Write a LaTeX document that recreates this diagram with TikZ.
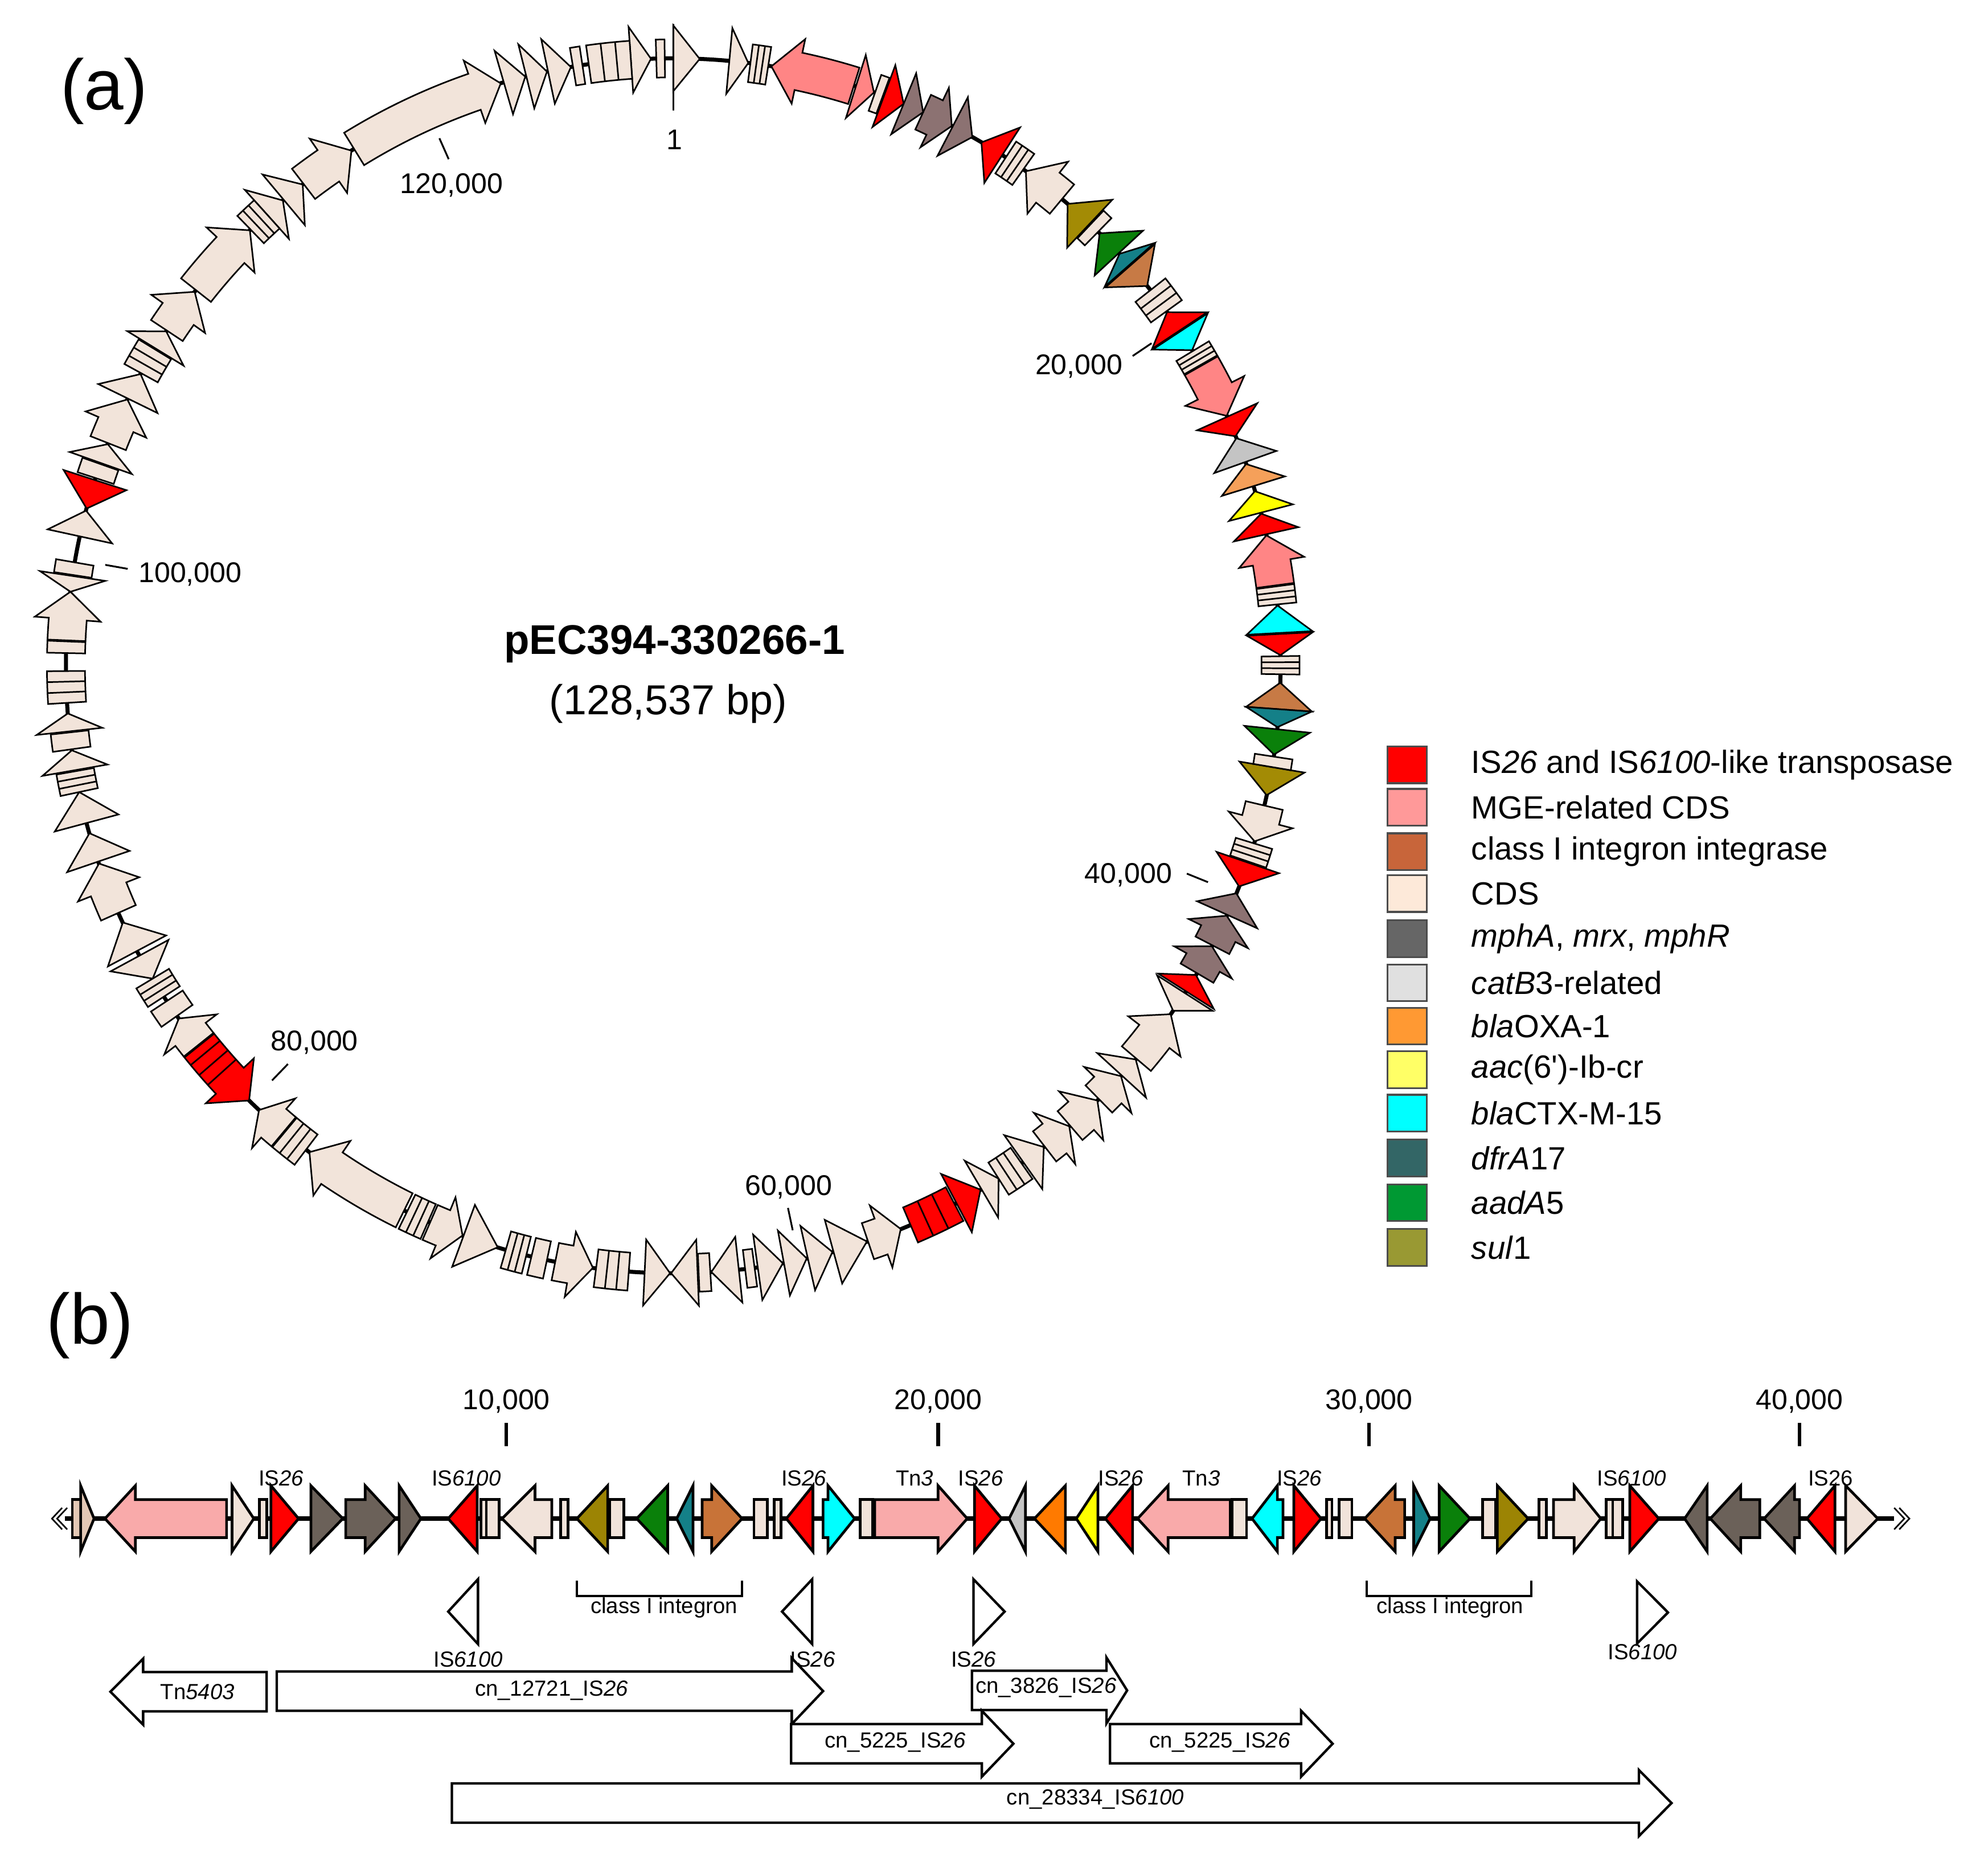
\documentclass[tikz,border=0pt]{standalone}
\usepackage{fontspec}
\setmainfont{Liberation Sans}
\usepackage{tikz}
% ring geometry (units of 0.1mm)
\newcommand{\ringr}{479}
\newcommand{\ringout}{494}
\newcommand{\ringin}{464}
\newcommand{\headout}{505}
\newcommand{\headin}{453}
% linear map
\newcommand{\lineY}{1197.5}
% colours of the ring
\definecolor{cds}{HTML}{F2E4DA}
\definecolor{mge}{HTML}{FF8585}
\definecolor{mph}{HTML}{8C7272}
\definecolor{intI}{HTML}{C77A45}
\definecolor{sul}{HTML}{A38B05}
\definecolor{aad}{HTML}{0A800A}
\definecolor{dfr}{HTML}{148088}
\definecolor{ctx}{HTML}{00FFFF}
\definecolor{oxa}{HTML}{F5A05A}
\definecolor{aac}{HTML}{FFFF00}
\definecolor{cat}{HTML}{C4C4C4}
\definecolor{isred}{HTML}{FF0000}
% colours of the linear map
\definecolor{cdsb}{HTML}{F1E3DA}
\definecolor{cdsdark}{HTML}{E3C8B5}
\definecolor{mgeb}{HTML}{F9AAAA}
\definecolor{mphb}{HTML}{6B6159}
\definecolor{oxab}{HTML}{FF7A00}
\definecolor{sulb}{HTML}{9C8404}
\definecolor{intIb}{HTML}{C87338}
% legend colours
\definecolor{lgpink}{HTML}{FF9999}
\definecolor{lgbrown}{HTML}{C8653A}
\definecolor{lgcds}{HTML}{FDE9D9}
\definecolor{lgmph}{HTML}{666666}
\definecolor{lggrey}{HTML}{E0E0E0}
\definecolor{lgorange}{HTML}{FF9933}
\definecolor{lgyellow}{HTML}{FFFF66}
\definecolor{lgteal}{HTML}{336666}
\definecolor{lggreen}{HTML}{009933}
\definecolor{lgolive}{HTML}{999933}
\tikzstyle{gene}=[draw=black, line width=0.35pt, line join=miter]
\tikzstyle{lgene}=[draw=black, line width=0.6pt]
\tikzstyle{annot}=[draw=black, fill=white, line width=0.55pt]
\tikzstyle{backbone}=[line width=0.9pt]
\tikzstyle{tickmark}=[line width=0.4pt]
\tikzstyle{ticklabel}=[inner sep=0, font=\fontsize{6.4}{7.5}\selectfont]
\tikzstyle{smalllabel}=[inner sep=0, font=\fontsize{4.9}{5.8}\selectfont]
\tikzstyle{legtext}=[inner sep=0, anchor=west, font=\fontsize{7.2}{8.5}\selectfont]
\tikzstyle{panellabel}=[inner sep=0, font=\fontsize{16}{19}\selectfont]

\begin{document}
\begin{tikzpicture}[x=0.1mm, y=-0.1mm]
\useasboundingbox (0,0) rectangle (1568,1471);

% ---------- (a) circular map ----------
\node[panellabel] (lbla) at (82,72) {(a)};
\begin{scope}[shift={(531,525)}, y=0.1mm]
  \draw[backbone] (0,0) circle[radius=\ringr];
  % genes with a body
  \foreach \angA/\angB/\dir/\col in {322.5/328/1/cds, 328.3/343.5/1/cds, 9.3/17.3/-1/mge,
      24.3/27.3/1/mph, 35.5/39.8/-1/cds, 60.4/65.7/1/mge, 77.6/82.4/-1/mge,
      103.3/106.8/1/cds, 114.3/117.4/-1/mph, 117.5/120.4/-1/mph, 125/130.3/-1/cds,
      132.5/135.5/-1/cds, 135.7/139.2/-1/cds, 139.3/142.3/-1/cds, 158/161.3/-1/cds,
      187.6/191.2/-1/cds, 200.3/203.6/-1/cds, 206.3/216.8/1/cds, 219.9/223/1/cds,
      224.3/231.3/-1/isred, 231.4/234.5/1/cds, 246/251/1/cds, 272.4/277/1/cds,
      291.5/296/1/cds, 303.5/308/1/cds, 308.2/315.8/1/cds} {
    \pgfmathsetmacro{\hd}{min(2.6,0.6*(\angB-\angA))}
    \pgfmathsetmacro{\ft}{90-(\dir>0?\angA:\angB)}
    \pgfmathsetmacro{\fp}{90-(\dir>0?\angB:\angA)}
    \pgfmathsetmacro{\fh}{\fp+\dir*\hd}
    \draw[gene, fill=\col] (\ft:\ringout) arc[start angle=\ft, end angle=\fh, radius=\ringout]
      -- (\fh:\headout) -- (\fp:\ringr) -- (\fh:\headin) -- (\fh:\ringin)
      arc[start angle=\fh, end angle=\ft, radius=\ringin] -- cycle;
  }
  % stripes on the red arrow
  \foreach \s in {228,229.2,230.4}
    \draw[gene] ({90-\s}:\ringout) -- ({90-\s}:\ringin);
  % triangles
  \foreach \angA/\angB/\dir/\col in {343.8/345.9/1/cds, 346/348/1/cds, 348.1/350.3/1/cds,
      356/357.9/1/cds, 0/2.5/1/cds, 5.3/7.1/1/cds, 17.5/19.3/1/mge, 20.3/22.3/1/isred,
      22.3/24.3/1/mph, 27.4/29.5/1/mph, 30.5/32.8/-1/isred, 40.5/43.3/-1/sul,
      44.6/47.2/-1/aad, 47.3/48.7/-1/dfr, 48.8/51.3/1/intI, 54.4/56.5/-1/isred,
      56.6/58.7/1/ctx, 65.8/67.8/1/isred, 68/70.4/-1/cat, 70.6/72.8/-1/oxa,
      73.3/75.4/-1/aac, 75.5/77.5/-1/isred, 84.3/86.9/-1/ctx, 87/89/1/isred,
      91.6/94.1/-1/intI, 94.1/95.8/1/dfr, 96/98.4/1/aad, 99.6/102.3/1/sul,
      108.9/111.3/1/isred, 112/114.2/-1/mph, 120.6/122.4/-1/isred, 122.6/124.6/1/cds,
      130.4/132.4/-1/cds, 142.4/144.8/-1/cds, 147.6/149.5/-1/cds, 149.6/152.2/-1/isred,
      161.4/164.7/-1/cds, 164.8/167.2/-1/cds, 167.3/169.5/-1/cds, 169.6/172/-1/cds,
      173.8/176.4/1/cds, 177.7/180.2/1/cds, 180.3/182.7/-1/cds, 196.8/200.2/-1/cds,
      239/241.5/-1/cds, 242/245/1/cds, 251.2/254/1/cds, 255/258/1/cds,
      260.1/262/1/cds, 263.8/265.5/1/cds, 277/278.5/-1/cds, 282.3/284.8/1/cds,
      285/287.8/-1/isred, 289.5/291.4/1/cds, 296.1/298.7/1/cds, 301.5/303.4/1/cds,
      318/320/1/cds, 320.1/322.4/1/cds} {
    \pgfmathsetmacro{\ft}{90-(\dir>0?\angA:\angB)}
    \pgfmathsetmacro{\fp}{90-(\dir>0?\angB:\angA)}
    \draw[gene, fill=\col] (\ft:\headout) -- (\fp:\ringr) -- (\ft:\headin) -- cycle;
  }
  % plain boxes
  \foreach \angA/\angB/\col in {350.5/351.4/cds, 358.4/359.2/cds, 19.4/20.2/cds,
      43.4/44.4/cds, 98.6/99.6/cds, 172.3/173.2/cds, 176.5/177.6/cds, 192/193.5/cds,
      234.8/236.5/cds, 262.1/263.7/cds, 271.2/272.3/cds, 278.6/279.8/cds, 288/289.4/cds} {
    \pgfmathsetmacro{\fa}{90-\angA}
    \pgfmathsetmacro{\fb}{90-\angB}
    \draw[gene, fill=\col] (\fa:\ringout) arc[start angle=\fa, end angle=\fb, radius=\ringout]
      -- (\fb:\ringin) arc[start angle=\fb, end angle=\fa, radius=\ringin] -- cycle;
  }
  % striped boxes
  \foreach \angA/\angB/\col in {352/356/cds, 7.3/9/cds, 33.2/35.2/cds, 51.8/54.3/cds,
      58.8/60.3/cds, 82.5/84.2/cds, 89.1/90.8/cds, 107/108.8/cds, 145/147.6/cds,
      152.4/157/isred, 184.2/187.3/cds, 194/196/cds, 203.8/206/cds, 217.2/219.8/cds,
      237/239/cds, 258/260/cds, 266.5/269.5/cds, 298.8/301.4/cds, 315.9/318/cds} {
    \pgfmathsetmacro{\fa}{90-\angA}
    \pgfmathsetmacro{\fb}{90-\angB}
    \pgfmathsetmacro{\fs}{\fa+(\fb-\fa)/3}
    \pgfmathsetmacro{\fu}{\fa+2*(\fb-\fa)/3}
    \draw[gene, fill=\col] (\fa:\ringout) arc[start angle=\fa, end angle=\fb, radius=\ringout]
      -- (\fb:\ringin) arc[start angle=\fb, end angle=\fa, radius=\ringin] -- cycle;
    \draw[gene] (\fs:\ringout) -- (\fs:\ringin) (\fu:\ringout) -- (\fu:\ringin);
  }
  % scale
  \draw[tickmark] (90:438) -- (90:506);
  \foreach \p in {20,40,...,120} {
    \pgfmathsetmacro{\fk}{90-\p/128.537*360}
    \draw[tickmark] (\fk:437) -- (\fk:455);
  }
\end{scope}
\node[ticklabel] (one) at (532,110) {1};
\node[ticklabel] (k20) at (851,289) {20,000};
\node[ticklabel] (k40) at (890,690) {40,000};
\node[ticklabel] (k60) at (622,936) {60,000};
\node[ticklabel] (k80) at (248,822) {80,000};
\node[ticklabel] (k100) at (150,453) {100,000};
\node[ticklabel] (k120) at (356,146) {120,000};
\node[inner sep=0, font=\bfseries\fontsize{9.3}{11}\selectfont] (pname) at (532,508) {pEC394-330266-1};
\node[inner sep=0, font=\fontsize{9.4}{11}\selectfont] (psize) at (527,555) {(128,537 bp)};

% ---------- legend ----------
\foreach \row/\col/\txt [count=\i] in {603.1/isred/{IS\textit{26} and IS\textit{6100}-like transposase},
    636.6/lgpink/{MGE-related CDS}, 671.6/lgbrown/{class I integron integrase},
    704.6/lgcds/{CDS}, 740.2/lgmph/{\textit{mphA}, \textit{mrx}, \textit{mphR}},
    775/lggrey/{\textit{catB}3-related}, 809.2/lgorange/{\textit{bla}OXA-1},
    843.6/lgyellow/{\textit{aac}(6\textquotesingle)-Ib-cr}, 877.8/ctx/{\textit{bla}CTX-M-15},
    913.2/lgteal/{\textit{dfrA}17}, 948.4/lggreen/{\textit{aadA}5},
    983.7/lgolive/{\textit{sul}1}} {
  \draw[draw=black!70, line width=0.4pt, fill=\col] (1094.3,\row-14.5) rectangle (1125.5,\row+14.5);
  \node[legtext] (leg\i) at (1159.9,\row) {\txt};
}

% ---------- (b) linear map ----------
\node[panellabel] (lblb) at (71,1045) {(b)};
\foreach \x/\k in {399.4/10,740/20,1079.8/30,1419.3/40} {
  \draw[line width=0.8pt] (\x,1122) -- (\x,1140.6);
  \node[ticklabel] (lin\k) at (\x,1105) {\k,000};
}
\draw[line width=1pt] (51,\lineY) -- (1494,\lineY);
\draw[line width=0.35pt] (49,1189) -- (41,\lineY) -- (49,1206) (53,1189) -- (45,\lineY) -- (53,1206);
\draw[line width=0.35pt] (1494,1189) -- (1502,\lineY) -- (1494,1206) (1498,1189) -- (1506,\lineY) -- (1498,1206);
% boxes
\foreach \xa/\xb/\col in {57/64.1/cdsdark, 204.5/210.3/cdsb, 379.3/393.6/cdsb, 442.3/448/cdsb,
    480.7/492.2/cdsb, 594.7/605.3/cdsb, 610.5/616/cdsb, 678.4/688.4/cdsb, 971.8/983.2/cdsb,
    1046.3/1050.6/cdsb, 1056.3/1066.3/cdsb, 1169.5/1179.5/cdsb, 1213.9/1219.6/cdsb,
    1266.9/1279.8/cdsb}
  \draw[lgene, fill=\col] (\xa,\lineY-15) rectangle (\xb,\lineY+15);
\draw[lgene] (383.6,\lineY-15) -- (383.6,\lineY+15) (1272,\lineY-15) -- (1272,\lineY+15);
% triangles
\foreach \xa/\xb/\dir/\col in {63.6/74.2/1/cdsdark, 183/200.2/1/cdsb, 213.7/235.5/1/isred,
    245.2/270.4/1/mphb, 314.8/332/1/mphb, 353.5/376.4/-1/isred, 455/479.3/-1/sulb,
    502.2/526.6/-1/aad, 533.7/546.6/-1/dfr, 620.2/641.2/-1/isred, 768.6/790.1/1/isred,
    795.9/808.8/-1/cat, 815.9/840.3/-1/oxab, 848.9/866/-1/aac, 871.8/893.3/-1/isred,
    1020.5/1042/1/isred, 1115/1128/1/dfr, 1135.1/1159.5/1/aad, 1181/1205.3/1/sulb,
    1285.5/1308.4/1/isred, 1328.7/1346.5/-1/mphb, 1425.2/1447.3/-1/isred,
    1455.7/1481.1/1/cdsb} {
  \pgfmathsetmacro{\xt}{\dir>0?\xa:\xb}
  \pgfmathsetmacro{\xp}{\dir>0?\xb:\xa}
  \draw[lgene, fill=\col] (\xt,\lineY-26) -- (\xp,\lineY) -- (\xt,\lineY+26) -- cycle;
}
% genes with a body
\foreach \xa/\xb/\dir/\col/\hl in {82.8/178.7/-1/mgeb/24, 272.7/312/1/mphb/24,
    396/435.2/-1/cdsb/26, 553.8/585.3/1/intIb/24, 649.2/674.1/1/ctx/21,
    689.9/762.9/1/mgeb/23, 897.3/970.4/-1/mgeb/24, 987.5/1011.9/-1/ctx/20,
    1076.4/1107.9/-1/intIb/24, 1225.3/1262.6/1/cdsb/21, 1349/1388/-1/mphb/24,
    1391.4/1419.3/-1/mphb/24} {
  \pgfmathsetmacro{\xt}{\dir>0?\xa:\xb}
  \pgfmathsetmacro{\xp}{\dir>0?\xb:\xa}
  \pgfmathsetmacro{\xh}{\xp-\dir*\hl}
  \draw[lgene, fill=\col] (\xt,\lineY-15) -- (\xh,\lineY-15) -- (\xh,\lineY-26) -- (\xp,\lineY)
    -- (\xh,\lineY+26) -- (\xh,\lineY+15) -- (\xt,\lineY+15) -- cycle;
}
% element names above the genes
\foreach \x/\txt [count=\i] in {221.7/IS\textit{26}, 367.8/IS\textit{6100}, 634/IS\textit{26},
    721.4/Tn\textit{3}, 773.5/IS\textit{26}, 884/IS\textit{26}, 947.4/Tn\textit{3},
    1024.8/IS\textit{26}, 1287/IS\textit{6100}, 1443.9/IS26}
  \node[smalllabel] (gl\i) at (\x,1165.5) {\txt};
% class I integron brackets
\draw[line width=0.5pt] (455,1246.5) -- (455,1258.7) -- (585.3,1258.7) -- (585.3,1246.5);
\node[smalllabel] (intA) at (523.7,1267.7) {class I integron};
\draw[line width=0.5pt] (1077.8,1246.5) -- (1077.8,1258.7) -- (1207.6,1258.7) -- (1207.6,1246.5);
\node[smalllabel] (intB) at (1143.7,1267.7) {class I integron};
% IS markers
\draw[annot] (377,1245.3) -- (353.5,1270.8) -- (377,1296.4) -- cycle;
\node[smalllabel] (mkA) at (369.3,1308.6) {IS\textit{6100}};
\draw[annot] (640.6,1245.3) -- (616.8,1270.8) -- (640.6,1296.4) -- cycle;
\node[smalllabel] (mkB) at (641,1308.6) {IS\textit{26}};
\draw[annot] (767.8,1245.3) -- (792.4,1270.8) -- (767.8,1296.4) -- cycle;
\node[smalllabel] (mkC) at (767.8,1308.6) {IS\textit{26}};
\draw[annot] (1291.2,1247) -- (1315.6,1271.5) -- (1291.2,1296) -- cycle;
\node[smalllabel] (mkD) at (1295.5,1302.5) {IS\textit{6100}};
% transposons and composite elements
\foreach \xt/\xh/\xp/\y in {210.3/112.9/87.1/1334, 218.3/624.5/649.2/1333.5,
    766.6/872.7/889/1333, 624/774.4/799.3/1375, 875.5/1026.2/1051.1/1375,
    356.4/1292.7/1318.4/1421.8}
  \draw[annot] (\xt,\y-15.5) -- (\xh,\y-15.5) -- (\xh,\y-26) -- (\xp,\y) -- (\xh,\y+26)
    -- (\xh,\y+15.5) -- (\xt,\y+15.5) -- cycle;
\node[smalllabel] (tn) at (155.8,1334) {Tn\textit{5403}};
\node[smalllabel] (cnA) at (435,1333) {cn\_12721\_IS\textit{26}};
\node[smalllabel] (cnB) at (825,1331) {cn\_3826\_IS\textit{26}};
\node[smalllabel] (cnC) at (706,1374) {cn\_5225\_IS\textit{26}};
\node[smalllabel] (cnD) at (962,1374) {cn\_5225\_IS\textit{26}};
\node[smalllabel] (cnE) at (864,1419) {cn\_28334\_IS\textit{6100}};
\end{tikzpicture}
\end{document}
